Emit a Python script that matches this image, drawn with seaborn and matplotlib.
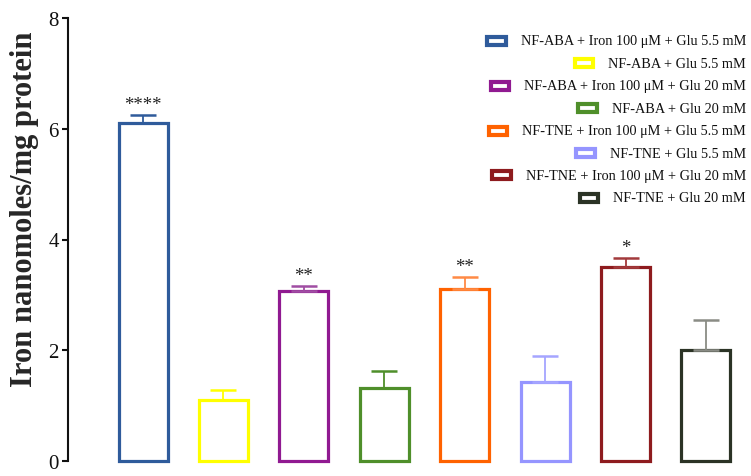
import matplotlib
matplotlib.use("Agg")
import matplotlib.pyplot as plt
from matplotlib.patches import Rectangle
from matplotlib.transforms import IdentityTransform
import seaborn as sns
import pandas as pd
import numpy as np

groups = [
    "NF-ABA + Iron 100 μM + Glu 5.5 mM",
    "NF-ABA + Glu 5.5 mM",
    "NF-ABA + Iron 100 μM + Glu 20 mM",
    "NF-ABA + Glu 20 mM",
    "NF-TNE + Iron 100 μM + Glu 5.5 mM",
    "NF-TNE + Glu 5.5 mM",
    "NF-TNE + Iron 100 μM + Glu 20 mM",
    "NF-TNE + Glu 20 mM",
]
means = [6.10, 1.11, 3.07, 1.32, 3.11, 1.43, 3.51, 2.01]
errors = [0.15, 0.18, 0.09, 0.30, 0.21, 0.47, 0.15, 0.54]
signif = ["****", "", "**", "", "**", "", "*", ""]
colors = ["#2F5B9B", "#FFFF00", "#901A91", "#4F8F2A",
          "#FF6200", "#9595FF", "#8E1B1E", "#2B3325"]
err_colors = ["#2F5B9B", "#FFFF00", "#A04DA3", "#4F8F2A",
              "#FF8A45", "#A5A5FF", "#A23A3C", "#8A8C85"]
yticks = [0, 2, 4, 6, 8]

df = pd.DataFrame({"group": groups, "value": means})

sns.set_style("white")
plt.rcParams["font.family"] = ["Liberation Serif", "DejaVu Serif"]

W, H = 751, 477
fig = plt.figure(figsize=(W / 100, H / 100), dpi=100)
ax = fig.add_axes([68 / W, 15 / H, 683 / W, 443 / H])

sns.barplot(data=df, x="group", y="value", hue="group", order=groups,
            hue_order=groups, palette=colors, fill=False, linewidth=2.3,
            width=0.61, legend=False, errorbar=None, ax=ax)
for p, c in zip(ax.patches, colors):
    p.set_edgecolor(c)
    p.set_facecolor("white")
    p.set_clip_on(False)

x = np.arange(len(groups))
for xi, m, e, ec in zip(x, means, errors, err_colors):
    ax.errorbar([xi], [m], yerr=[[0], [e]], fmt="none", ecolor=ec,
                elinewidth=1.3, capsize=9.5, capthick=1.8, zorder=1)

for xi, m, e, s in zip(x, means, errors, signif):
    if s:
        ax.annotate(s, (xi, m + e), xytext=(0, 1.5), textcoords="offset points",
                    ha="center", va="bottom", fontsize=13.5, color="#222222")

ax.set_xlim(-0.933, 7.56)
ax.set_ylim(0, 8)
ax.set_yticks(yticks)
ax.set_yticklabels([str(t) for t in yticks])
ax.set_xticks([])
ax.set_xlabel("")
for s in ["top", "right", "bottom"]:
    ax.spines[s].set_visible(False)
ax.spines["left"].set_linewidth(1.5)
ax.spines["left"].set_color("#111111")
ax.tick_params(axis="y", direction="out", length=4.5, width=1.5,
               labelsize=15, left=True, pad=2, colors="#111111")
ax.set_ylabel("Iron nanomoles/mg protein", fontsize=22, fontweight="bold")
ax.yaxis.set_label_coords(-0.043, 0.571)

# Legend: right-aligned text with outline handles to the left
ypix = [42, 64.4, 86.8, 109.2, 131.6, 154, 176.4, 198.8]
texts = []
for g, yp in zip(groups, ypix):
    t = ax.text((746 - 68) / 683, (462 - yp) / 443, g, ha="right", va="center",
                fontsize=10.3, color="#111111", transform=ax.transAxes)
    texts.append(t)
fig.canvas.draw()
r = fig.canvas.get_renderer()
for t, c in zip(texts, colors):
    bb = t.get_window_extent(r)
    yc = (bb.y0 + bb.y1) / 2
    w, h = 18.5, 8.0
    x1 = bb.x0 - 13 - 2
    rect = Rectangle((x1 - w, yc - h / 2), w, h, transform=IdentityTransform(),
                     facecolor="white", edgecolor=c, linewidth=3.0)
    fig.patches.append(rect)

fig.savefig("out.png", dpi=100)
